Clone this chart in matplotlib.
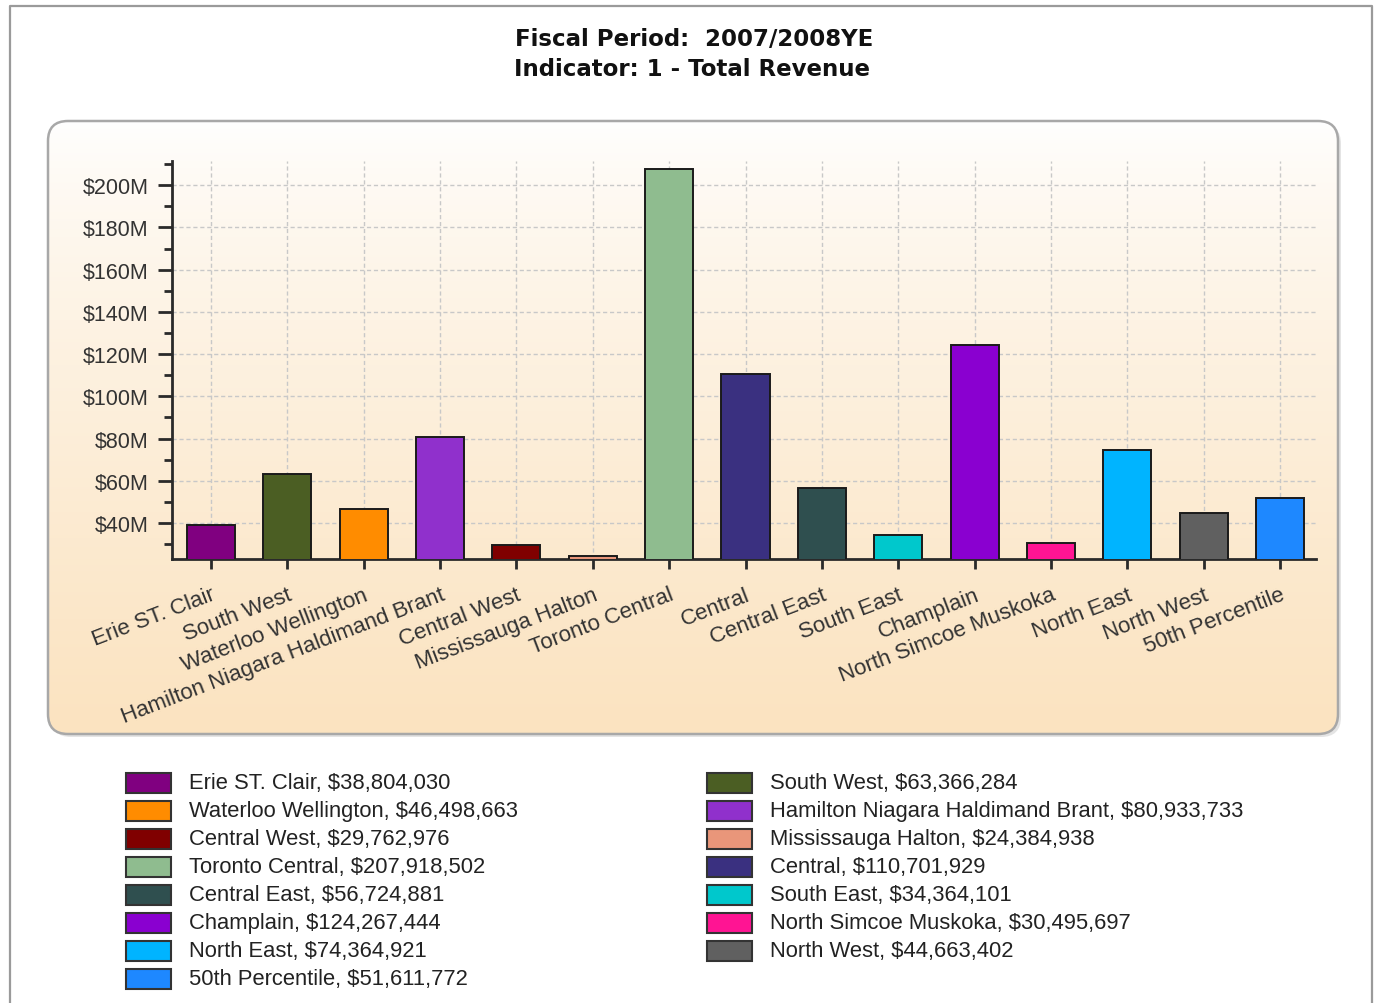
import matplotlib
matplotlib.use("Agg")
import matplotlib.pyplot as plt
import numpy as np
from matplotlib.patches import FancyBboxPatch, Rectangle
from matplotlib.ticker import MultipleLocator, FuncFormatter

plt.rcParams['font.family'] = ['Liberation Sans', 'DejaVu Sans']

# data
regions = ["Erie ST. Clair", "South West", "Waterloo Wellington",
           "Hamilton Niagara Haldimand Brant", "Central West", "Mississauga Halton",
           "Toronto Central", "Central", "Central East", "South East", "Champlain",
           "North Simcoe Muskoka", "North East", "North West", "50th Percentile"]
revenue = [38804030, 63366284, 46498663, 80933733, 29762976, 24384938,
           207918502, 110701929, 56724881, 34364101, 124267444, 30495697,
           74364921, 44663402, 51611772]
colors = ["#800080", "#4B5E23", "#FF8C00", "#9030CC", "#800000", "#E9967A",
          "#8FBC8F", "#3A3080", "#2F4F4F", "#00C8CC", "#8A00D0", "#FF1493",
          "#00B4FF", "#606060", "#1E88FF"]
title_lines = ["Fiscal Period:  2007/2008YE", "Indicator: 1 - Total Revenue"]

W, H = 1376, 1004
fig = plt.figure(figsize=(W / 100, H / 100), dpi=100)

# background layer in pixel coordinates
bg = fig.add_axes([0, 0, 1, 1])
bg.axis('off')

bg.plot([10, 10, 1372, 1372], [H, 7, 7, H], color='#9a9a9a', lw=1.6)

shadow = FancyBboxPatch((51, 125), 1290, 613, boxstyle="round,pad=0,rounding_size=20",
                        facecolor='#e4e4e4', edgecolor='none', zorder=0)
bg.add_patch(shadow)
panel = FancyBboxPatch((48, 122), 1290, 613, boxstyle="round,pad=0,rounding_size=20",
                       facecolor='none', edgecolor='#a8a8a8', lw=1.8, zorder=3)
bg.add_patch(panel)
grad = np.linspace(0, 1, 256) ** 0.75
top_c = np.array([1.0, 1.0, 1.0])
bot_c = np.array([0xFB, 0xE3, 0xC0]) / 255
img = top_c[None, None, :] + (bot_c - top_c)[None, None, :] * grad[:, None, None]
im = bg.imshow(img, extent=[48, 1338, 735, 122], aspect='auto', zorder=1)
im.set_clip_path(panel)
bg.set_xlim(0, W)
bg.set_ylim(H, 0)

# title
fig.text(694 / W, 1 - 40 / H, title_lines[0], ha='center', va='center',
         fontsize=16.5, fontweight='bold', family='DejaVu Sans', color='#111111')
fig.text(692 / W, 1 - 70 / H, title_lines[1], ha='center', va='center',
         fontsize=16.5, fontweight='bold', family='DejaVu Sans', color='#111111')

# main chart
ax = fig.add_axes([172 / W, 1 - 560 / H, (1316 - 172) / W, (560 - 162) / H])
ax.patch.set_alpha(0)
x = np.arange(len(regions))
vals = np.array(revenue) / 1e6
ax.bar(x, vals, width=0.63, color=colors, edgecolor='#1a1a1a', lw=1.4, zorder=3)
ax.set_xlim(-0.51, 14.47)
ax.set_ylim(22.9, 211.5)

ax.yaxis.set_major_locator(MultipleLocator(20))
ax.yaxis.set_minor_locator(MultipleLocator(10))
ax.yaxis.set_major_formatter(FuncFormatter(lambda v, p: f"${v:.0f}M"))
ax.set_xticks(x)
ax.set_xticklabels(regions, rotation=21, ha='right', va='top', rotation_mode='anchor')
ax.grid(True, which='major', color='#c8c8c8', ls=(0, (3, 2)), lw=1)
ax.set_axisbelow(True)
for s in ['top', 'right']:
    ax.spines[s].set_visible(False)
for s in ['left', 'bottom']:
    ax.spines[s].set_color('#2a2a2a')
    ax.spines[s].set_linewidth(2)
ax.tick_params(axis='y', which='major', length=10, width=2, color='#2a2a2a',
               labelsize=15.5, labelcolor='#333333', pad=7)
ax.tick_params(axis='y', which='minor', length=6, width=2, color='#2a2a2a')
ax.tick_params(axis='x', length=7, width=2, color='#2a2a2a', pad=11,
               labelsize=16, labelcolor='#333333')

# legend, filled row by row in two columns
for i, (name, v, c) in enumerate(zip(regions, revenue, colors)):
    row, col = i // 2, i % 2
    yc = 784 + 28 * row
    sx = 126 if col == 0 else 707
    tx = 189 if col == 0 else 770
    bg.add_patch(Rectangle((sx, yc - 10), 45, 20, facecolor=c, edgecolor='#333333',
                           lw=1.5, zorder=4))
    bg.text(tx, yc, f"{name}, ${v:,}", ha='left', va='center', fontsize=15.8,
            color='#222222', zorder=4)

fig.savefig("out.png", dpi=100)
